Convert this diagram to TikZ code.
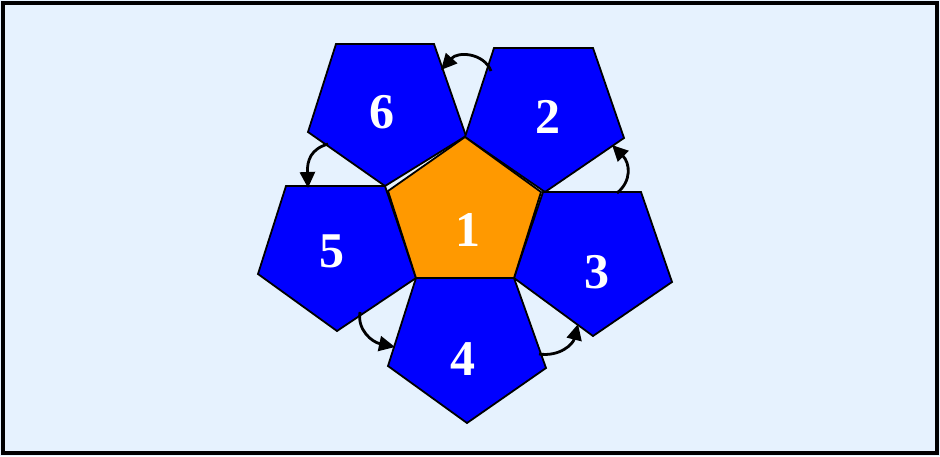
\documentclass[tikz,border=0pt]{standalone}
\usepackage{fontspec}
\setmainfont{Liberation Serif}
\usetikzlibrary{arrows.meta}
\definecolor{bgblue}{RGB}{230,242,254}
\definecolor{faceblue}{RGB}{0,0,255}
\definecolor{faceorange}{RGB}{255,153,0}
\tikzset{
  face/.style={draw=black, line width=1.8pt, line join=miter},
  bluefacestyle/.style={face, fill=faceblue},
  orangefacestyle/.style={face, fill=faceorange},
  facelabel/.style={text=white, font=\fontsize{50}{54}\selectfont\bfseries, inner sep=0pt},
  turnarrow/.style={draw=black, line width=2.8pt, -{Triangle[length=16pt,width=15pt]}}
}
\begin{document}
\begin{tikzpicture}[x=1pt,y=-1pt]
\useasboundingbox (0,0) rectangle (940,456);
\fill[bgblue] (0,0) rectangle (940,456);
\draw[line width=4pt] (2.5,2.5) rectangle (936.5,452.5);

% centre face 1
\coordinate (c1) at (465,137);
\coordinate (c2) at (541,192);
\coordinate (c3) at (514,278);
\coordinate (c4) at (416,278);
\coordinate (c5) at (388,191);

% face 6
\coordinate (f6a) at (336,44);
\coordinate (f6b) at (434,44);
\coordinate (f6c) at (466,136);
\coordinate (f6d) at (385,186);
\coordinate (f6e) at (308,132);
% face 2
\coordinate (f2a) at (494,48);
\coordinate (f2b) at (593,48);
\coordinate (f2c) at (624,138);
\coordinate (f2d) at (545,192);
\coordinate (f2e) at (465,137);
% face 5
\coordinate (f5a) at (286,186);
\coordinate (f5b) at (385,186);
\coordinate (f5c) at (416,278);
\coordinate (f5d) at (337,331);
\coordinate (f5e) at (258,274);
% face 3
\coordinate (f3a) at (543,192);
\coordinate (f3b) at (641,192);
\coordinate (f3c) at (672,282);
\coordinate (f3d) at (593,336);
\coordinate (f3e) at (514,278);
% face 4
\coordinate (f4a) at (416,278);
\coordinate (f4b) at (514,278);
\coordinate (f4c) at (546,368);
\coordinate (f4d) at (467,423);
\coordinate (f4e) at (388,366);

\path[bluefacestyle] (f6a) -- (f6b) -- (f6c) -- (f6d) -- (f6e) -- cycle;
\path[bluefacestyle] (f2a) -- (f2b) -- (f2c) -- (f2d) -- (f2e) -- cycle;
\path[bluefacestyle] (f5a) -- (f5b) -- (f5c) -- (f5d) -- (f5e) -- cycle;
\path[bluefacestyle] (f3a) -- (f3b) -- (f3c) -- (f3d) -- (f3e) -- cycle;
\path[bluefacestyle] (f4a) -- (f4b) -- (f4c) -- (f4d) -- (f4e) -- cycle;
\path[orangefacestyle] (c1) -- (c2) -- (c3) -- (c4) -- (c5) -- cycle;

\node[facelabel] (n1) at (468,230) {1};
\node[facelabel] (n2) at (548,117) {2};
\node[facelabel] (n3) at (597,272) {3};
\node[facelabel] (n4) at (463,359) {4};
\node[facelabel] (n5) at (332,251) {5};
\node[facelabel] (n6) at (382,112) {6};

% arrow end points
\coordinate (a62s) at (491,71);
\coordinate (a62e) at (441,70);
\coordinate (a65s) at (328,144);
\coordinate (a65e) at (308,188);
\coordinate (a54s) at (360,312);
\coordinate (a54e) at (395,347);
\coordinate (a43s) at (539,354);
\coordinate (a43e) at (578,324);
\coordinate (a32s) at (617,193);
\coordinate (a32e) at (612,145);

\draw[turnarrow] (a62s) .. controls (484,53) and (458,51) .. (a62e);
\draw[turnarrow] (a65s) .. controls (311,149) and (307,160) .. (a65e);
\draw[turnarrow] (a54s) .. controls (357,330) and (372,342) .. (a54e);
\draw[turnarrow] (a43s) .. controls (560,357) and (573,344) .. (a43e);
\draw[turnarrow] (a32s) .. controls (632,181) and (630,163) .. (a32e);
\end{tikzpicture}
\end{document}
